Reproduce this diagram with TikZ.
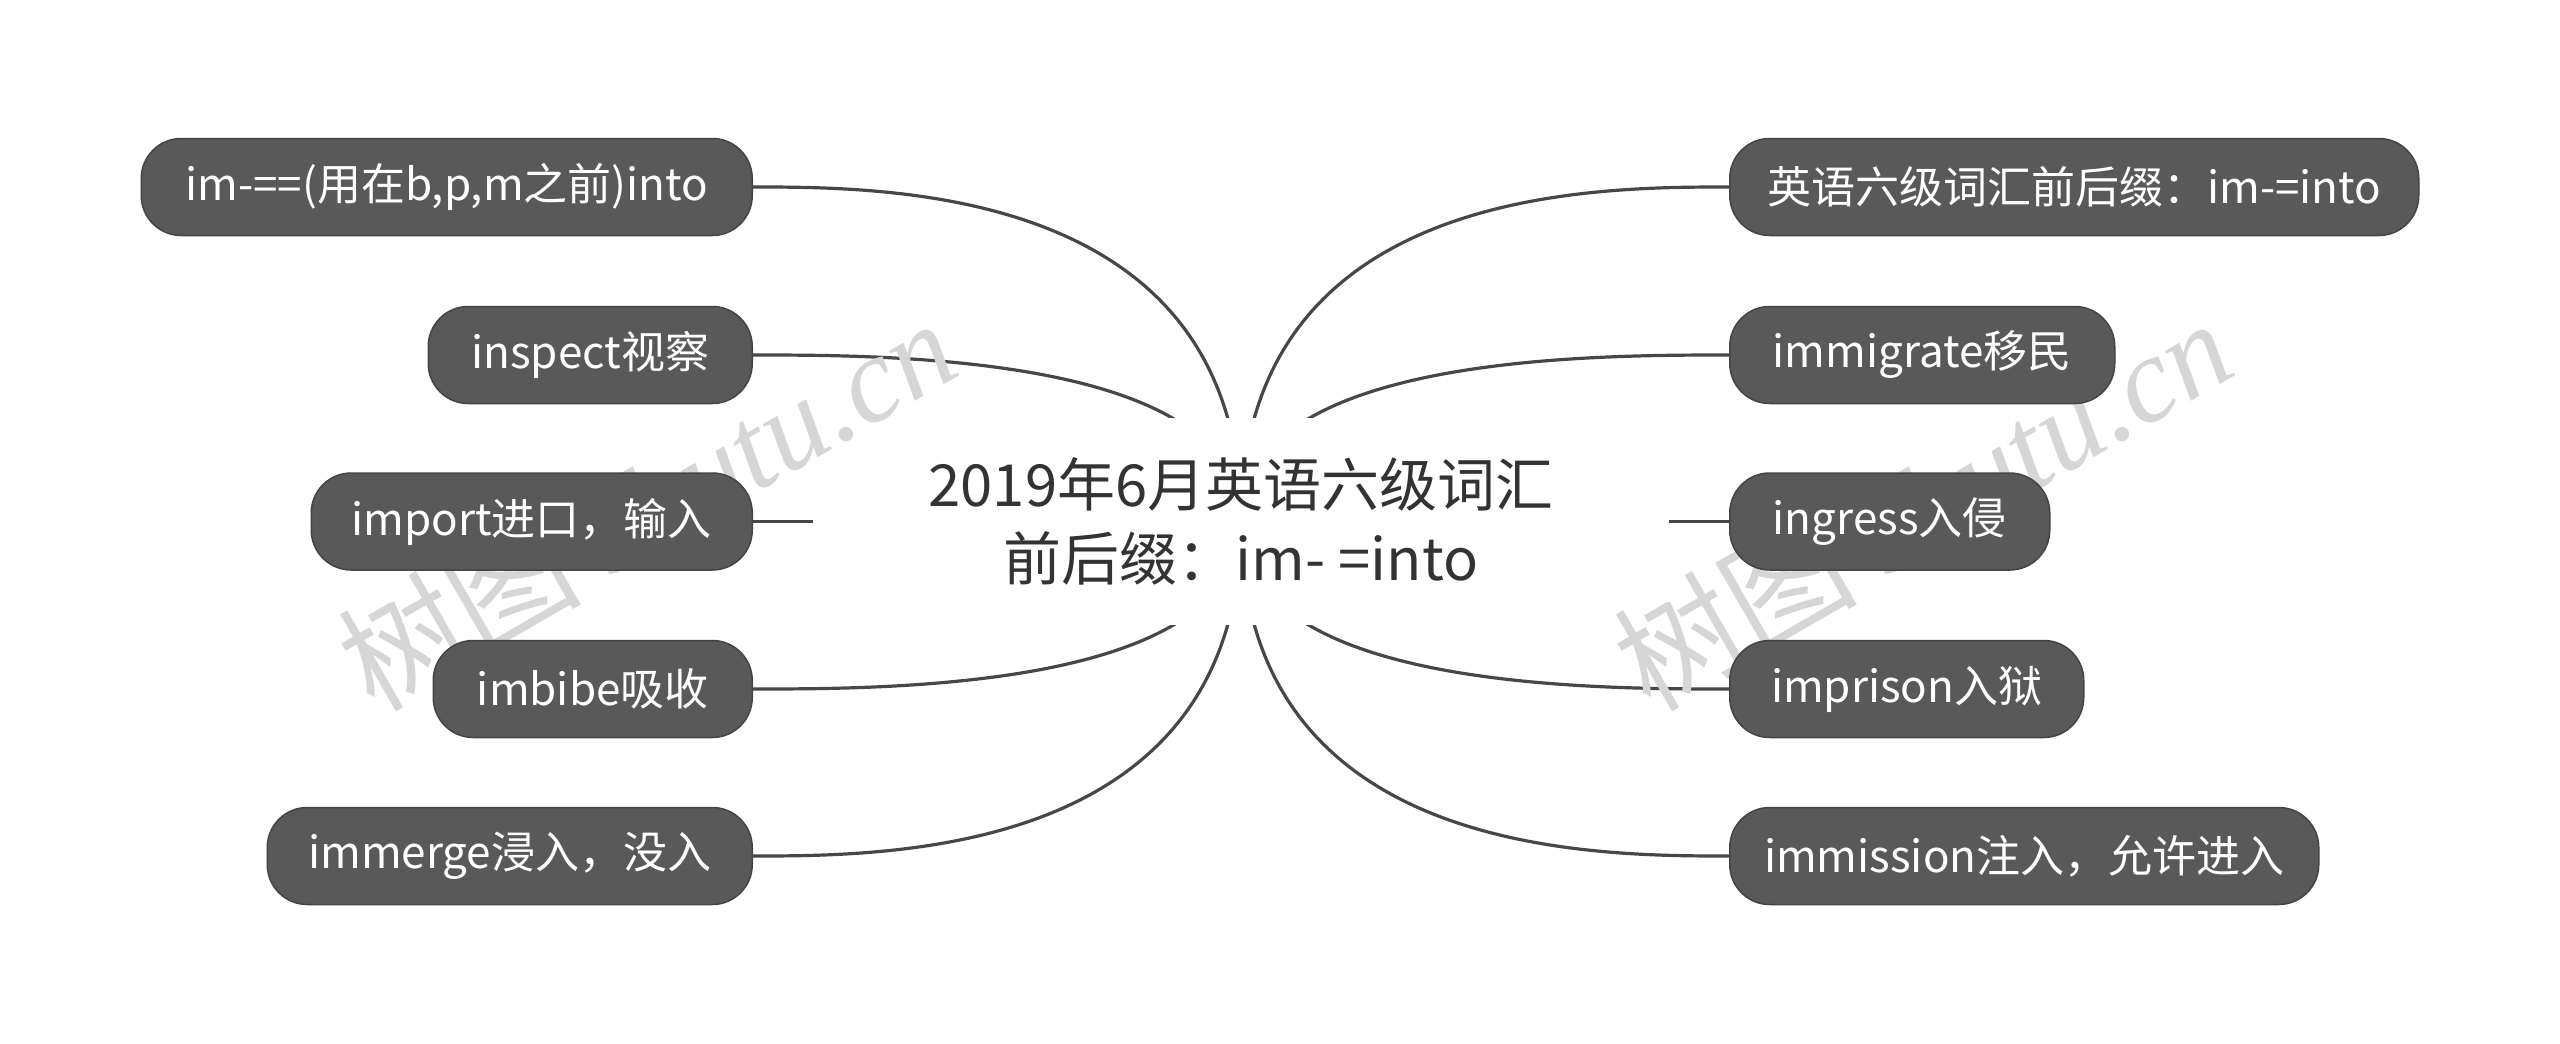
\documentclass[tikz,border=0pt]{standalone}
\usepackage{fontspec}
\setmainfont{Noto Sans CJK SC}
\newfontfamily\wmcjk{Noto Sans CJK SC}
\newfontfamily\wmlat{Liberation Serif}
\usetikzlibrary{backgrounds}
\definecolor{nodefill}{HTML}{595959}
\definecolor{nodeedge}{HTML}{444444}
\definecolor{linec}{HTML}{474747}
\definecolor{centertext}{HTML}{333333}
\definecolor{wmc}{HTML}{D6D6D6}
\begin{document}
\begin{tikzpicture}[x=0.5pt,y=-0.5pt,
  leaf/.style={fill=nodefill, draw=nodeedge, line width=0.75pt, rounded corners=20pt,
    minimum height=48.5pt, text=white, font=\fontsize{22}{26}\selectfont, inner sep=0pt},
  topic/.style={fill=white, minimum width=428pt, minimum height=103.5pt, align=center,
    text=centertext, font=\fontsize{29}{37}\selectfont, inner sep=0pt},
  conn/.style={draw=linec, line width=1.6pt},
  wm/.style={text=wmc, rotate=30, inner sep=0pt, font=\fontsize{61}{70}\selectfont}]
\useasboundingbox (0,0) rectangle (2560,1044);
\node[topic] (c) at (1241,521.5) {2019年6月英语六级词汇\\前后缀：im-\ =into};
\node[wm] (w1) at (646,503) {\wmcjk 树图 \wmlat\itshape shutu.cn};
\node[wm] (w2) at (1922,503) {\wmcjk 树图 \wmlat\itshape shutu.cn};
\node[leaf, minimum width=305.5pt, anchor=east] (l1) at (753,187) {im-==(用在b,p,m之前)into};
\node[leaf, minimum width=162pt, anchor=east] (l2) at (753,355) {inspect视察};
\node[leaf, minimum width=220.5pt, anchor=east] (l3) at (753,521.5) {import进口，输入};
\node[leaf, minimum width=159.5pt, anchor=east] (l4) at (753,689) {imbibe吸收};
\node[leaf, minimum width=242.5pt, anchor=east] (l5) at (753,856) {immerge浸入，没入};
\node[leaf, minimum width=344.5pt, anchor=west] (r1) at (1729,187) {英语六级词汇前后缀：im-=into};
\node[leaf, minimum width=192.5pt, anchor=west] (r2) at (1729,355) {immigrate移民};
\node[leaf, minimum width=160pt, anchor=west] (r3) at (1729,521.5) {ingress入侵};
\node[leaf, minimum width=177pt, anchor=west] (r4) at (1729,689) {imprison入狱};
\node[leaf, minimum width=294.5pt, anchor=west] (r5) at (1729,856) {immission注入，允许进入};
\begin{scope}[on background layer]
\draw[conn] (c.center) .. controls (1241,187) and (890,187) .. (l1.east);
\draw[conn] (c.center) .. controls (1241,355) and (890,355) .. (l2.east);
\draw[conn] (c.center) -- (l3.east);
\draw[conn] (c.center) .. controls (1241,689) and (890,689) .. (l4.east);
\draw[conn] (c.center) .. controls (1241,856) and (890,856) .. (l5.east);
\draw[conn] (c.center) .. controls (1241,187) and (1592,187) .. (r1.west);
\draw[conn] (c.center) .. controls (1241,355) and (1592,355) .. (r2.west);
\draw[conn] (c.center) -- (r3.west);
\draw[conn] (c.center) .. controls (1241,689) and (1592,689) .. (r4.west);
\draw[conn] (c.center) .. controls (1241,856) and (1592,856) .. (r5.west);
\end{scope}
\end{tikzpicture}
\end{document}
